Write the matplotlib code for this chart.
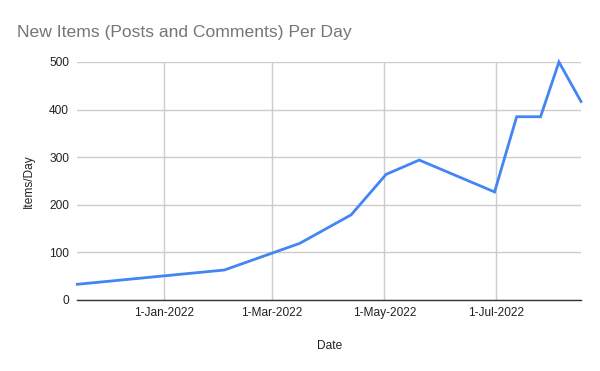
import numpy as np
import matplotlib
matplotlib.use('Agg')
import matplotlib.pyplot as plt
import matplotlib.dates as mdates
from datetime import datetime

plt.rcParams['font.family'] = ['Liberation Sans', 'DejaVu Sans']

# Data
dates = ['2021-11-15', '2022-02-03', '2022-03-16', '2022-04-13', '2022-05-02',
         '2022-05-20', '2022-06-30', '2022-07-12', '2022-07-25', '2022-08-04',
         '2022-08-16']
items = [33, 63, 119, 179, 264, 294, 227, 385, 385, 500, 417]
yticks = [0, 100, 200, 300, 400, 500]
xticks = ['2022-01-01', '2022-03-01', '2022-05-01', '2022-07-01']

x = [datetime.strptime(d, '%Y-%m-%d') for d in dates]
xt = [datetime.strptime(d, '%Y-%m-%d') for d in xticks]

fig = plt.figure(figsize=(6, 3.71), dpi=100)
ax = fig.add_axes([77.3/600, 1-300/371, (581-77.3)/600, (300-62)/371])

ax.plot(x, items, color='#4285F4', lw=2, solid_joinstyle='miter', clip_on=False, zorder=3)

ax.set_xlim(x[0], x[-1])
ax.set_ylim(0, 500)
ax.set_yticks(yticks)
ax.set_xticks(xt)
ax.xaxis.set_major_formatter(mdates.DateFormatter('%-d-%b-%Y'))

ax.grid(True, color='#cccccc', lw=1)
ax.set_axisbelow(True)
for s in ['top', 'right', 'left']:
    ax.spines[s].set_visible(False)
ax.spines['bottom'].set_color('#333333')
ax.spines['bottom'].set_linewidth(1.0)
ax.spines['bottom'].set_zorder(2)
ax.tick_params(axis='both', length=0, labelsize=8.6, labelcolor='#222222')
ax.tick_params(axis='y', pad=6)
ax.tick_params(axis='x', pad=5)

ax.set_xlabel('Date', fontsize=8.6, color='#222222', labelpad=15)
ax.set_ylabel('Items/Day', fontsize=8.6, color='#222222', labelpad=10)

fig.text(17/600, 1-33/371, 'New Items (Posts and Comments) Per Day', fontsize=12.6,
         color='#757575', va='center', ha='left')

fig.savefig('out.png', dpi=100)
